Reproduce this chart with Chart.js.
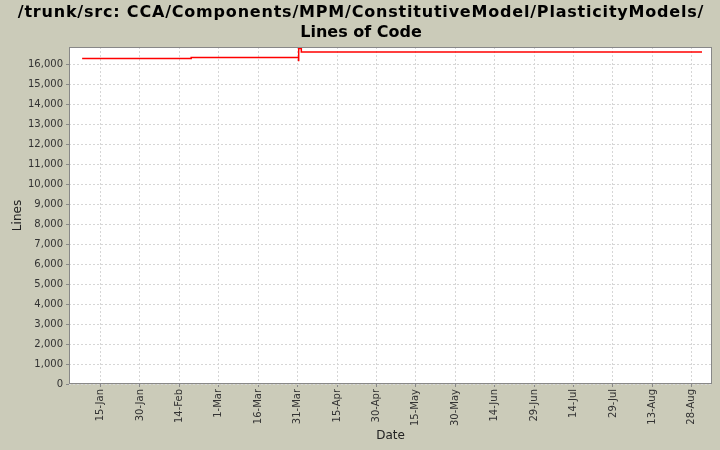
<!DOCTYPE html>
<html>
<head>
<meta charset="utf-8">
<script src="https://cdn.jsdelivr.net/npm/chart.js@4"></script>
<style>
  html, body { margin: 0; padding: 0; background: #cbcbb9; }
  #wrap { width: 720px; height: 450px; }
</style>
</head>
<body>
<div id="wrap"><canvas id="grafico"></canvas></div>
<script>
// dados
const titulo = ['/trunk/src: CCA/Components/MPM/ConstitutiveModel/PlasticityModels/', 'Lines of Code'];
const datas = ['2009-01-08 00', '2009-02-18 12', '2009-03-31 09', '2009-03-31 10', '2009-04-01 10', '2009-08-31 22'];
const linhas = [16300, 16350, 16200, 16800, 16620, 16620];
const datasTicks = ['2009-01-15', '2009-01-30', '2009-02-14', '2009-03-01', '2009-03-16', '2009-03-31',
    '2009-04-15', '2009-04-30', '2009-05-15', '2009-05-30', '2009-06-14', '2009-06-29',
    '2009-07-14', '2009-07-29', '2009-08-13', '2009-08-28'];
const valoresTicksY = [0, 1000, 2000, 3000, 4000, 5000, 6000, 7000, 8000, 9000, 10000,
    11000, 12000, 13000, 14000, 15000, 16000];
const meses = ['Jan', 'Feb', 'Mar', 'Apr', 'May', 'Jun', 'Jul', 'Aug', 'Sep', 'Oct', 'Nov', 'Dec'];

function paraMs(s) {
    let p = s.split(/[- ]/).map(Number);
    return Date.UTC(p[0], p[1] - 1, p[2], p[3] || 0);
}

function rotuloData(ms) {
    let d = new Date(ms);
    return d.getUTCDate() + '-' + meses[d.getUTCMonth()];
}

const fonte = '"DejaVu Sans", sans-serif';

// fundo branco da área do gráfico e título
const fundo = {
    id: 'fundo',
    beforeDraw(chart) {
        const { ctx, chartArea: a } = chart;
        ctx.save();
        ctx.fillStyle = '#cbcbb9';
        ctx.fillRect(0, 0, chart.width, chart.height);
        ctx.fillStyle = '#ffffff';
        ctx.fillRect(a.left, a.top, a.right - a.left, a.bottom - a.top);
        ctx.fillStyle = '#000000';
        ctx.font = 'bold 16px ' + fonte;
        ctx.textAlign = 'center';
        ctx.textBaseline = 'middle';
        ctx.letterSpacing = '0.8px';
        ctx.fillText(titulo[0], 361, 13);
        ctx.letterSpacing = '0px';
        ctx.fillText(titulo[1], 361, 33);
        ctx.restore();
    },
    afterDraw(chart) {
        const { ctx, chartArea: a } = chart;
        ctx.save();
        ctx.strokeStyle = '#888888';
        ctx.lineWidth = 1;
        ctx.strokeRect(a.left + 0.5, a.top + 0.5, a.right - a.left - 1, a.bottom - a.top - 1);
        ctx.restore();
    }
};

const pontos = datas.map((d, i) => ({ x: paraMs(d), y: linhas[i] }));

new Chart(document.getElementById('grafico'), {
    type: 'line',
    data: {
        datasets: [{
            data: pontos,
            borderColor: '#ff0000',
            borderWidth: 1.5,
            pointRadius: 0,
            stepped: true,
            fill: false
        }]
    },
    options: {
        responsive: true,
        maintainAspectRatio: false,
        animation: false,
        layout: { padding: { top: 47, right: 8, left: 0, bottom: 0 } },
        plugins: { legend: { display: false }, tooltip: { enabled: false } },
        scales: {
            x: {
                type: 'linear',
                min: paraMs('2009-01-03 00'),
                max: paraMs('2009-09-04 17'),
                afterBuildTicks(scale) {
                    scale.ticks = datasTicks.map(d => ({ value: paraMs(d) }));
                },
                afterFit(scale) { scale.height = 66; },
                ticks: {
                    autoSkip: false,
                    minRotation: 90,
                    maxRotation: 90,
                    padding: 2,
                    color: '#333333',
                    font: { family: fonte, size: 10 },
                    callback: v => rotuloData(v)
                },
                grid: {
                    color: '#d6d6d6',
                    tickColor: '#888888',
                    tickLength: 3,
                    drawTicks: true
                },
                border: { display: false, dash: [2, 2] },
                title: {
                    display: true,
                    text: 'Date',
                    color: '#222222',
                    font: { family: fonte, size: 12 },
                    padding: { top: 0, bottom: 7 }
                }
            },
            y: {
                min: 0,
                max: 16870,
                afterBuildTicks(scale) {
                    scale.ticks = valoresTicksY.map(v => ({ value: v }));
                },
                afterFit(scale) { scale.width = 69; },
                ticks: {
                    autoSkip: false,
                    padding: 3,
                    color: '#333333',
                    font: { family: fonte, size: 10 },
                    callback: v => v.toLocaleString('en-US')
                },
                grid: {
                    color: '#d6d6d6',
                    tickColor: '#888888',
                    tickLength: 3
                },
                border: { display: false, dash: [2, 2] },
                title: {
                    display: true,
                    text: 'Lines',
                    color: '#222222',
                    font: { family: fonte, size: 12 },
                    padding: { top: 11, bottom: 0 }
                }
            }
        }
    },
    plugins: [fundo]
});
</script>
</body>
</html>
